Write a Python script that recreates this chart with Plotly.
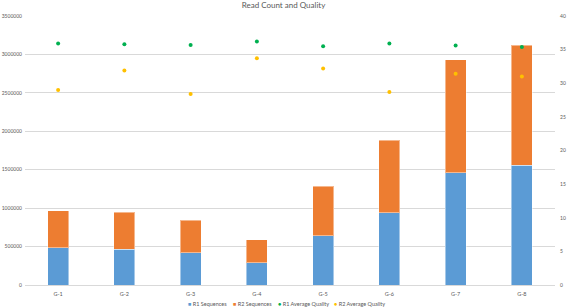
import plotly.graph_objects as go

categories = ["G-1", "G-2", "G-3", "G-4", "G-5", "G-6", "G-7", "G-8"]
r1_sequences = [483000, 466000, 418000, 287000, 640000, 940000, 1458000, 1559000]
r2_sequences = [483000, 483000, 423000, 300000, 647000, 944000, 1471000, 1561000]
r1_avg_quality = [35.9, 35.8, 35.7, 36.2, 35.5, 35.9, 35.6, 35.4]
r2_avg_quality = [29.0, 31.9, 28.4, 33.7, 32.2, 28.7, 31.4, 31.0]
left_ticks = [0, 500000, 1000000, 1500000, 2000000, 2500000, 3000000, 3500000]
right_ticks = [0, 5, 10, 15, 20, 25, 30, 35, 40]

BLUE = "#5B9BD5"
ORANGE = "#ED7D31"
GREEN = "#00B050"
YELLOW = "#FFC000"
FONT = "Lato"
GRAY = "#595959"

fig = go.Figure()
fig.add_trace(go.Bar(x=categories, y=r1_sequences, name="R1 Sequences",
                     marker=dict(color=BLUE, line=dict(color="rgba(255,255,255,0.45)", width=1)),
                     width=0.32))
fig.add_trace(go.Bar(x=categories, y=r2_sequences, name="R2 Sequences",
                     marker=dict(color=ORANGE, line=dict(color="rgba(255,255,255,0.45)", width=1)),
                     width=0.32))
fig.add_trace(go.Scatter(x=categories, y=r1_avg_quality, name="R1 Average Quality",
                         mode="markers", yaxis="y2",
                         marker=dict(color=GREEN, size=4, symbol="circle")))
fig.add_trace(go.Scatter(x=categories, y=r2_avg_quality, name="R2 Average Quality",
                         mode="markers", yaxis="y2",
                         marker=dict(color=YELLOW, size=4, symbol="circle")))

L, R, T, B = 25, 12, 16, 23
W, H = 567, 308
pw, ph = W - L - R, H - T - B

def px_x(p):
    return (p - L) / pw

def px_y(p):
    return (H - B - p) / ph

legend_items = [
    (186, "■", BLUE, "R1 Sequences"),
    (231, "■", ORANGE, "R2 Sequences"),
    (276, "●", GREEN, "R1 Average Quality"),
    (332, "●", YELLOW, "R2 Average Quality"),
]
annotations = []
for xp, sym, col, label in legend_items:
    annotations.append(dict(
        x=px_x(xp), y=px_y(304), xref="paper", yref="paper",
        xanchor="left", yanchor="middle", showarrow=False,
        text=f"<span style='color:{col}'>{sym}</span> {label}",
        font=dict(family=FONT, size=5.5, color=GRAY)))

fig.update_layout(
    width=W, height=H,
    barmode="stack",
    plot_bgcolor="white", paper_bgcolor="white",
    margin=dict(l=L, r=R, t=T, b=B, pad=0, autoexpand=False),
    showlegend=False,
    title=dict(text="Read Count and Quality", x=0.5, xanchor="center",
               y=1 - 5 / H, yanchor="middle",
               font=dict(family=FONT, size=8, color=GRAY)),
    font=dict(family=FONT, size=5.5, color=GRAY),
    xaxis=dict(showgrid=False, showline=True, linecolor="#D9D9D9", linewidth=1,
               ticks="", tickfont=dict(size=5.5, color=GRAY), ticklabelstandoff=3,
               automargin=False),
    yaxis=dict(range=[0, 3500000], tickvals=left_ticks,
               ticktext=[str(v) for v in left_ticks],
               showgrid=True, gridcolor="#D9D9D9", gridwidth=1,
               zeroline=False, showline=False, ticks="",
               tickfont=dict(size=5, color=GRAY), ticklabelstandoff=2,
               automargin=False),
    yaxis2=dict(range=[0, 40], tickvals=right_ticks, overlaying="y", side="right",
                showgrid=False, zeroline=False, showline=False, ticks="",
                tickfont=dict(size=5, color=GRAY), ticklabelstandoff=4,
                automargin=False),
    annotations=annotations,
)

fig.write_html("out.html",
               config={"displayModeBar": False},
               post_script="document.body.style.margin='0';document.body.style.overflow='hidden';")
